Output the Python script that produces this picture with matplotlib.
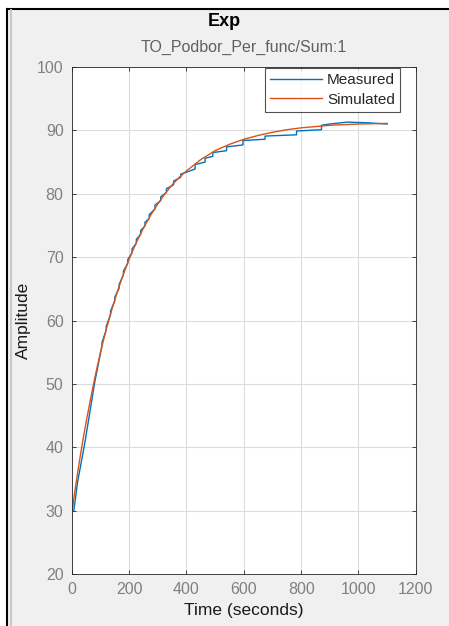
import numpy as np
import matplotlib.pyplot as plt
from matplotlib.patches import Rectangle
from matplotlib.lines import Line2D

# simulated model response
sim_t = [0, 10, 20, 30, 40, 50, 60, 70, 80, 90, 100, 120, 140, 160, 180, 200,
         225, 250, 275, 300, 325, 350, 375, 400, 450, 500, 550, 600, 650, 700,
         750, 800, 850, 900, 950, 1000, 1050, 1100]
sim_y = [29.6, 32.9, 35.9, 38.8, 41.5, 44.0, 46.4, 48.7, 50.9, 53.0, 55.0,
         58.6, 61.8, 64.7, 67.3, 69.7, 72.3, 74.6, 76.6, 78.4, 80.0, 81.4,
         82.6, 83.6, 85.4, 86.8, 87.8, 88.6, 89.2, 89.7, 90.1, 90.4, 90.6,
         90.8, 90.9, 91.0, 91.05, 91.1]

# measured signal; repeated times are the quantisation jumps
meas_t = [7, 20, 45, 80, 105, 105, 120, 120, 135, 135, 150, 150, 165, 165,
          180, 180, 195, 195, 210, 210, 225, 225, 240, 240, 255, 255, 270,
          270, 290, 290, 310, 310, 330, 330, 355, 355, 380, 380, 400, 430,
          430, 465, 465, 492, 492, 540, 540, 597, 597, 674, 674, 784, 784,
          871, 871, 900, 960, 1030, 1100]
meas_y = [30.0, 34.5, 40.6, 50.3, 56.0, 56.5, 58.5, 59.1, 60.9, 61.5, 63.1,
          63.7, 65.1, 65.7, 67.2, 67.8, 69.0, 69.6, 70.7, 71.3, 72.2, 72.8,
          73.6, 74.2, 74.9, 75.5, 76.1, 76.7, 77.6, 78.2, 78.9, 79.5, 80.2,
          80.8, 81.4, 82.0, 82.6, 83.1, 83.4, 83.9, 84.6, 85.0, 85.6, 85.9,
          86.5, 86.8, 87.4, 87.7, 88.4, 88.6, 89.1, 89.3, 89.9, 90.1, 90.8,
          91.0, 91.3, 91.2, 91.0]

xticks = [0, 200, 400, 600, 800, 1000, 1200]
yticks = [20, 30, 40, 50, 60, 70, 80, 90, 100]

plt.rcParams['font.family'] = ['Liberation Sans', 'DejaVu Sans']

fig = plt.figure(figsize=(4.49, 6.26), dpi=100, facecolor='#f0f0f0')
ax = fig.add_axes([0.160, 0.083, 0.766, 0.810])
ax.set_facecolor('white')

ax.plot(meas_t, meas_y, color='#0072BD', lw=1.0, label='Measured')
ax.plot(sim_t, sim_y, color='#D95319', lw=1.0, label='Simulated')

ax.set_xlim(0, 1200)
ax.set_ylim(20, 100)
ax.set_xticks(xticks)
ax.set_yticks(yticks)
ax.grid(True, color='#dcdcdc', lw=0.8)
ax.set_axisbelow(True)
ax.tick_params(direction='in', top=True, right=True, length=3, width=0.6,
               colors='#262626', labelcolor='#808080', labelsize=11.5, pad=6)
for s in ax.spines.values():
    s.set_color('#262626')
    s.set_linewidth(0.6)

ax.set_xlabel('Time (seconds)', fontsize=12.5, color='#1a1a1a', labelpad=4)
ax.set_ylabel('Amplitude', fontsize=12.5, color='#1a1a1a', labelpad=4)
ax.set_title('TO_Podbor_Per_func/Sum:1', fontsize=11.5, color='#606060', pad=11)
fig.text(0.5, 0.965, 'Exp', ha='center', va='center', fontsize=13, fontweight='bold', color='black')

leg = ax.legend(loc='upper right', bbox_to_anchor=(0.955, 0.998), fontsize=11,
                frameon=True, fancybox=False, handlelength=3.4, borderpad=0.35,
                labelspacing=0.35, handletextpad=0.3, borderaxespad=0.0)
leg.get_frame().set_edgecolor('#262626')
leg.get_frame().set_linewidth(0.8)
for t in leg.get_texts():
    t.set_color('#262626')

# window frame like the screenshot
fig.add_artist(Rectangle((0, 1 - 8 / 626), 1, 8 / 626, transform=fig.transFigure, color='white', zorder=0))
fig.add_artist(Rectangle((0, 0), 6 / 449, 1, transform=fig.transFigure, color='white', zorder=0))
fig.add_artist(Line2D([6.5 / 449, 1], [1 - 9 / 626, 1 - 9 / 626], transform=fig.transFigure, color='black', lw=1.5))
fig.add_artist(Line2D([7 / 449, 7 / 449], [0, 1 - 9 / 626], transform=fig.transFigure, color='black', lw=1.5))
fig.add_artist(Line2D([11 / 449, 11 / 449], [0, 1 - 10 / 626], transform=fig.transFigure, color='#c8c8c8', lw=1.5))

fig.savefig('out.png', dpi=100, facecolor=fig.get_facecolor())
